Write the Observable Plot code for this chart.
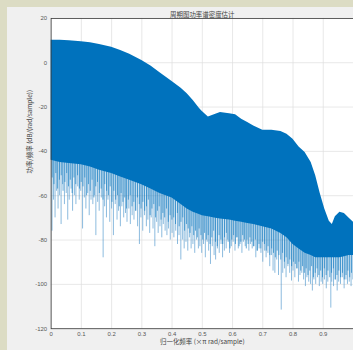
<!DOCTYPE html>
<html>
<head>
<meta charset="utf-8">
<script src="https://cdn.jsdelivr.net/npm/d3@7"></script>
<script src="https://cdn.jsdelivr.net/npm/@observablehq/plot@0.6"></script>
<style>
  html, body { margin: 0; padding: 0; overflow: hidden; background: #dcdcc4; width: 353px; height: 350px; }
  #fig { position: absolute; left: 7px; top: 7px; width: 346px; height: 343px; background: #f0f0f0; overflow: hidden; }
  #fig svg { font-family: "Liberation Sans", "DejaVu Sans", "Noto Sans CJK SC", sans-serif; }
</style>
</head>
<body>
<div id="fig"></div>
<script>
// ---- Text ----
const title = "周期图功率谱密度估计";
const xLabel = "归一化频率 (×π rad/sample)";
const yLabel = "功率/频率 (dB/(rad/sample))";

// ---- Ticks ----
const xTicks = [0, 0.1, 0.2, 0.3, 0.4, 0.5, 0.6, 0.7, 0.8, 0.9, 1];
const xTickLabels = [0, 0.1, 0.2, 0.3, 0.4, 0.5, 0.6, 0.7, 0.8, 0.9];
const yTicks = [20, 0, -20, -40, -60, -80, -100, -120];

// ---- Envelope of the dense periodogram (normalized freq, dB) ----
const envFreq = [0, 0.03, 0.06, 0.1, 0.13, 0.16, 0.2, 0.23, 0.26, 0.3, 0.33, 0.36, 0.4, 0.43, 0.45, 0.47, 0.49, 0.5, 0.52, 0.54, 0.56, 0.59, 0.61, 0.63, 0.65, 0.67, 0.7, 0.73, 0.76, 0.78, 0.8, 0.82, 0.84, 0.86, 0.875, 0.89, 0.905, 0.92, 0.93, 0.94, 0.955, 0.97, 0.985, 1];
const envUpper = [10.2, 10.1, 9.9, 9.5, 9, 8.2, 7, 5.5, 3.8, 1, -1.5, -4.5, -8.5, -11.5, -14, -17, -20.5, -22, -24.5, -23.5, -22.5, -23, -23.5, -25.5, -27, -28.5, -30.5, -30.5, -31, -32.3, -34.5, -38, -40.5, -45, -51, -59, -66, -71.5, -73, -69.5, -67.5, -68, -70, -72];
const envLower = [-44, -45, -45.5, -46, -47, -48.5, -50, -51.5, -53, -55, -57, -59, -61, -64, -66, -67.5, -68.5, -69, -69.5, -70, -70.5, -71, -71.5, -72, -72.5, -73, -74, -75, -77, -79, -82, -84, -86, -87, -88, -88, -88, -88, -88, -88, -88, -87.5, -87, -87];

// ---- Deep downward spikes (normalized freq, dB minimum) ----
const spikeFreq = [0.003,0.008,0.013,0.018,0.023,0.028,0.033,0.038,0.044,0.050,0.055,0.060,0.066,0.071,0.077,0.082,0.088,0.093,0.098,0.104,0.110,0.115,0.121,0.126,0.132,0.138,0.143,0.148,0.154,0.159,0.166,0.172,0.177,0.183,0.188,0.194,0.200,0.206,0.212,0.218,0.223,0.229,0.234,0.240,0.246,0.251,0.257,0.262,0.268,0.274,0.280,0.286,0.292,0.297,0.303,0.309,0.315,0.320,0.326,0.331,0.337,0.343,0.349,0.354,0.360,0.366,0.371,0.377,0.383,0.388,0.394,0.400,0.406,0.412,0.418,0.423,0.429,0.435,0.440,0.446,0.452,0.458,0.463,0.469,0.475,0.481,0.487,0.492,0.498,0.504,0.510,0.516,0.521,0.527,0.533,0.539,0.544,0.550,0.556,0.562,0.567,0.573,0.579,0.584,0.590,0.596,0.602,0.608,0.613,0.619,0.625,0.631,0.636,0.642,0.648,0.654,0.659,0.665,0.671,0.677,0.682,0.688,0.694,0.700,0.706,0.711,0.717,0.723,0.729,0.734,0.740,0.746,0.752,0.761,0.766,0.772,0.777,0.783,0.789,0.795,0.800,0.806,0.812,0.818,0.823,0.829,0.835,0.841,0.846,0.852,0.858,0.864,0.869,0.875,0.881,0.887,0.893,0.898,0.904,0.910,0.915,0.925,0.928,0.934,0.940,0.946,0.951,0.957,0.963,0.969,0.975,0.980,0.986,0.992,0.998];
const spikeDb = [-76,-62,-70,-58,-66,-60,-73,-55,-64,-59,-71,-62,-57,-67,-60,-64,-56,-62,-58,-75,-61,-66,-59,-69,-62,-64,-60,-78,-63,-67,-61,-88,-65,-70,-62,-72,-66,-78,-64,-71,-67,-74,-65,-70,-68,-72,-66,-73,-69,-71,-67,-74,-82,-70,-76,-69,-74,-71,-77,-70,-75,-83,-72,-77,-74,-79,-73,-76,-78,-75,-80,-77,-79,-76,-82,-78,-89,-80,-84,-81,-85,-79,-84,-82,-86,-80,-84,-83,-86,-82,-88,-81,-85,-91,-83,-87,-89,-84,-86,-82,-88,-85,-84,-80,-86,-83,-81,-85,-79,-84,-82,-86,-81,-83,-80,-85,-82,-84,-83,-88,-85,-84,-86,-90,-85,-88,-86,-92,-87,-94,-95,-89,-96,-111.6,-95,-93,-97,-92,-95,-98.5,-94,-97,-93,-99,-96,-95,-98,-101,-97,-99,-100,-103,-98,-100,-97,-101,-99,-100,-98,-102,-99,-110.7,-99,-101,-98,-103,-99,-100,-97,-102,-98,-100,-99,-101,-98];

// ---- Shallower spikes that fill the ragged lower band ----
const spike2Freq = [
  0.0035,0.0095,0.0155,0.0215,0.0275,0.0335,0.0395,0.0455,0.0515,0.0575,
  0.0635,0.0695,0.0755,0.0815,0.0875,0.0935,0.0995,0.1055,0.1115,0.1175,
  0.1235,0.1295,0.1355,0.1415,0.1475,0.1535,0.1595,0.1655,0.1715,0.1775,
  0.1835,0.1895,0.1955,0.2015,0.2075,0.2135,0.2195,0.2255,0.2315,0.2375,
  0.2435,0.2495,0.2555,0.2615,0.2675,0.2735,0.2795,0.2855,0.2915,0.2975,
  0.3035,0.3095,0.3155,0.3215,0.3275,0.3335,0.3395,0.3455,0.3515,0.3575,
  0.3635,0.3695,0.3755,0.3815,0.3875,0.3935,0.3995,0.4055,0.4115,0.4175,
  0.4235,0.4295,0.4355,0.4415,0.4475,0.4535,0.4595,0.4655,0.4715,0.4775,
  0.4835,0.4895,0.4955,0.5015,0.5075,0.5135,0.5195,0.5255,0.5315,0.5375,
  0.5435,0.5495,0.5555,0.5615,0.5675,0.5735,0.5795,0.5855,0.5915,0.5975,
  0.6035,0.6095,0.6155,0.6215,0.6275,0.6335,0.6395,0.6455,0.6515,0.6575,
  0.6635,0.6695,0.6755,0.6815,0.6875,0.6935,0.6995,0.7055,0.7115,0.7175,
  0.7235,0.7295,0.7355,0.7415,0.7475,0.7535,0.7595,0.7655,0.7715,0.7775,
  0.7835,0.7895,0.7955,0.8015,0.8075,0.8135,0.8195,0.8255,0.8315,0.8375,
  0.8435,0.8495,0.8555,0.8615,0.8675,0.8735,0.8795,0.8855,0.8915,0.8975,
  0.9035,0.9095,0.9155,0.9215,0.9275,0.9335,0.9395,0.9455,0.9515,0.9575,
  0.9635,0.9695,0.9755,0.9815,0.9875,0.9935];
const spike2Db = [
  -52,-55,-50,-57,-53,-51,-58,-54,-50,-56,-53,-59,-52,-55,-51,-57,-54,
  -56,-52,-60,-55,-58,-53,-61,-56,-54,-59,-57,-62,-55,-58,-60,-56,-63,
  -58,-62,-60,-65,-59,-63,-61,-66,-62,-60,-65,-63,-67,-61,-64,-66,
  -63,-67,-65,-62,-69,-66,-64,-70,-67,-65,-71,-68,-70,-66,-72,-69,-71,
  -70,-73,-68,-74,-72,-70,-76,-73,-75,-77,-74,-78,-76,-79,-75,-78,-80,
  -77,-80,-78,-82,-79,-76,-81,-83,-78,-80,-82,-79,-77,-81,-84,-80,-78,-82,-79,-83,-81,-78,-80,-84,-82,-79,-81,-83,-80,-85,-82,-84,-81,
  -82,-85,-83,-87,-84,-86,-88,-85,-87,-89,-86,-90,-88,-91,-89,-92,-90,
  -91,-93,-90,-94,-92,-95,-93,-96,-94,-92,-97,-95,-93,-96,-94,-97,
  -93,-96,-94,-97,-95,-93,-98,-96,-94,-97,-95,-98,-96,-94,-97,-95];

const env = envFreq.map((f, i) => ({f, hi: envUpper[i], lo: envLower[i]}));
const loAt = d3.scaleLinear().domain(envFreq).range(envLower).clamp(true);
const spikes = spikeFreq.map((f, i) => ({f, top: loAt(f) + 3, bottom: spikeDb[i]}));
const spikes2 = spike2Freq.map((f, i) => ({f, top: loAt(f) + 3, bottom: spike2Db[i]})).filter(d => d.bottom !== undefined);

const blue = "#0072bd";

const chart = Plot.plot({
  width: 349,
  height: 343,
  marginLeft: 44,
  marginRight: 0,
  marginTop: 11,
  marginBottom: 19,
  style: {background: "transparent", fontSize: "6px", overflow: "visible"},
  x: {domain: [0, 1], axis: null},
  y: {domain: [-120, 20], axis: null},
  marks: [
    Plot.frame({fill: "white"}),
    Plot.gridX(xTicks, {stroke: "#dedede", strokeOpacity: 1, strokeWidth: 0.7}),
    Plot.gridY(yTicks, {stroke: "#dedede", strokeOpacity: 1, strokeWidth: 0.7}),
    Plot.ruleX(spikes, {x: "f", y1: "top", y2: "bottom", stroke: "#3d8cc8", strokeOpacity: 0.6, strokeWidth: 1}),
    Plot.ruleX(spikes2, {x: "f", y1: "top", y2: "bottom", stroke: blue, strokeOpacity: 0.6, strokeWidth: 1}),
    Plot.areaY(env, {x: "f", y1: "lo", y2: "hi", fill: blue}),
    Plot.frame({stroke: "#3a3a3a", strokeWidth: 0.8}),
    Plot.axisX(xTickLabels, {tickSize: 0, tickPadding: 3, tickFormat: d => String(d), fill: "#555", fontSize: 6, label: null}),
    Plot.axisY(yTicks, {tickSize: 0, tickPadding: 4, tickFormat: d => String(d), fill: "#555", fontSize: 6, label: null}),
    Plot.text([title], {frameAnchor: "top", dy: -6, text: d => d, fill: "#444", fontSize: 6.5, fontFamily: "Noto Sans CJK SC"}),
    Plot.text([xLabel], {frameAnchor: "bottom", dy: 15.5, text: d => d, fill: "#444", fontSize: 6.5, fontFamily: "Noto Sans CJK SC"}),
    Plot.text([yLabel], {frameAnchor: "left", dx: -21, rotate: -90, text: d => d, fill: "#444", fontSize: 6.5, fontFamily: "Noto Sans CJK SC"})
  ]
});
document.getElementById("fig").appendChild(chart);
</script>
</body>
</html>
